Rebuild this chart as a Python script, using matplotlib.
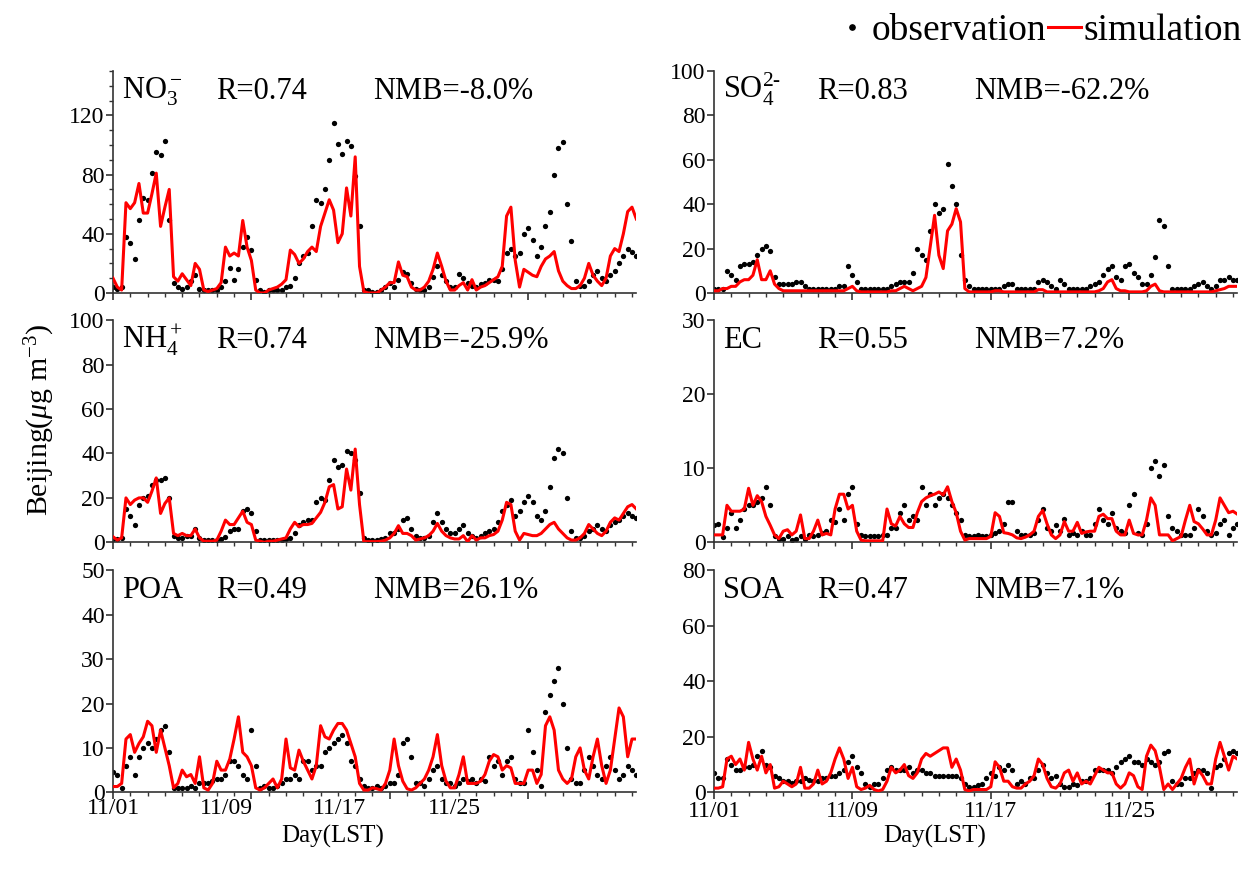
import numpy as np
import matplotlib
matplotlib.use("Agg")
import matplotlib.pyplot as plt
from matplotlib.lines import Line2D
from matplotlib.ticker import MultipleLocator

plt.rcParams['font.family'] = ['Liberation Serif', 'DejaVu Serif']
plt.rcParams['mathtext.fontset'] = 'custom'
plt.rcParams['mathtext.rm'] = 'Liberation Serif'
plt.rcParams['mathtext.it'] = 'Liberation Serif:italic'

# 6-hourly samples, in days since 11/01 00:00
days = np.arange(122) * 0.25
date_ticks = [0, 8, 16, 24]
date_labels = ['11/01', '11/09', '11/17', '11/25']
# the left column prints its date labels closer together than its ticks
left_label_pos = [0, 6.53, 13.12, 19.71]

# ---- left column ----
no3_obs = [4, 3, 4, 38, 34, 23, 49, 64,
           63, 81, 95, 93, 103, 49, 7, 4,
           3, 4, 8, 12, 3, 2, 2, 2,
           2, 4, 8, 17, 9, 16, 31, 38,
           29, 9, 2, 1, 2, 2, 2, 2,
           4, 5, 10, 20, 25, 27, 45, 63,
           61, 70, 90, 115, 101, 94, 103, 99,
           79, 45, 2, 2, 1, 1, 2, 4,
           7, 4, 9, 14, 13, 7, 3, 2,
           2, 4, 11, 18, 12, 8, 4, 4,
           13, 10, 7, 5, 4, 6, 7, 9,
           9, 8, 16, 27, 30, 25, 27, 40,
           44, 36, 25, 31, 45, 55, 80, 98,
           102, 60, 35, 8, 5, 5, 8, 12,
           15, 10, 8, 12, 15, 20, 25, 30,
           28, 25]
no3_sim = [10, 4, 2, 61, 57, 61, 74, 54,
           54, 67, 81, 45, 58, 70, 11, 8,
           13, 9, 5, 20, 16, 2, 1, 2,
           3, 7, 31, 25, 27, 25, 49, 31,
           22, 2, 0, 0, 2, 3, 4, 6,
           9, 29, 26, 20, 23, 28, 31, 28,
           45, 54, 63, 56, 34, 40, 71, 52,
           92, 18, 1, 0, 0, 0, 2, 4,
           7, 7, 21, 12, 11, 4, 2, 2,
           4, 8, 16, 27, 18, 8, 2, 2,
           5, 7, 2, 9, 2, 4, 5, 7,
           9, 11, 18, 52, 58, 22, 4, 16,
           14, 12, 11, 18, 23, 25, 28, 15,
           8, 5, 3, 3, 5, 10, 20, 12,
           8, 5, 10, 25, 30, 28, 40, 55,
           58, 50]

nh4_obs = [1.5, 1.5, 2, 15, 12, 8, 17, 20,
           21, 26, 28, 28, 29, 20, 3, 2,
           2, 3, 3, 6, 2, 1, 1, 1,
           1, 1.5, 2.5, 5, 6, 6, 14, 15,
           13, 5, 1, 1, 1, 1, 1, 1,
           1.5, 2, 4, 8, 9, 10, 10, 18,
           20, 19, 28, 37, 34, 35, 41, 40,
           37, 22, 2, 1, 1, 1, 1.5, 2,
           4, 4, 6, 10, 11, 6, 3, 2,
           2, 3, 9, 13, 9, 6, 4, 4,
           6, 8, 4, 3, 2, 3, 4, 5,
           6, 9, 14, 17, 19, 12, 14, 18,
           21, 18, 12, 10, 14, 25, 38, 42,
           40, 20, 5, 2, 2, 3, 5, 6,
           8, 6, 5, 8, 9, 10, 12, 13,
           12, 11]
nh4_sim = [2.5, 1, 2, 20, 17, 19, 20, 20,
           18, 23, 29, 13, 17.5, 20, 4, 3,
           4, 3, 3, 6, 2, 0.5, 0.5, 0.5,
           1, 5, 10, 8, 8, 11, 14, 9,
           8, 1, 0.5, 0, 0.5, 0.5, 1, 1.5,
           2, 6, 9, 7, 8, 8, 8.5, 11,
           13.5, 18, 25, 26, 15, 16, 33, 23.5,
           42, 17, 0.3, 0.3, 0.3, 0.3, 0.5, 1,
           2, 4, 7.5, 4, 4, 3, 1, 1.5,
           2, 3, 5, 8.5, 5, 3, 2, 1.5,
           1.5, 3, 0.3, 3, 1, 2, 2, 3,
           3.5, 5, 10, 18, 17, 5, 1, 4,
           3.5, 3, 3, 4, 6, 8, 9, 6,
           4, 2, 1, 1, 2, 4, 8, 6,
           4, 3, 5, 9, 11, 10, 13, 16,
           17, 15]

poa_obs = [4.5, 4, 1, 6, 8, 4, 8, 10,
           11, 10, 12, 14, 15, 9, 1, 1,
           1, 1, 1.5, 1, 2, 2, 2, 2.5,
           3, 3, 4, 7, 7, 6, 4, 3,
           14, 6, 1, 1.5, 1, 1, 1.5, 2,
           3, 3, 4, 3, 7, 7, 5, 6,
           6, 9, 10, 11, 12, 13, 11, 7,
           6, 3, 1.5, 1, 1, 1.5, 1, 1.5,
           2, 2, 4, 11, 12, 8, 2, 2,
           1.5, 3, 5, 6, 3, 2, 2, 1.5,
           2, 3, 2.5, 3, 2, 3, 2.5, 8,
           6, 7, 4, 7, 8, 3, 2, 2,
           14, 9, 5, 1.5, 18, 22, 25, 28,
           20, 10, 3, 2, 2, 5, 8, 6,
           4, 3, 6, 8, 5, 3, 4, 6,
           5, 4]
poa_sim = [1.3, 1.3, 2, 12, 13, 9, 11, 12.5,
           16, 15, 9, 14, 10, 6, 1, 2,
           5, 3.5, 4, 2, 8, 1, 0.5, 2,
           7, 5, 5, 7.5, 12, 17, 9, 8,
           6, 1, 0.5, 1, 2, 3, 1, 3,
           12, 5.5, 5, 9.5, 7, 5, 3, 6,
           15, 12.5, 12, 14, 15.5, 15.5, 14, 11,
           8, 2, 0.5, 0.5, 1, 0.8, 0.5, 2,
           5, 12, 6, 2.5, 0.8, 0.5, 1, 2,
           3, 5, 8, 13, 6, 2.5, 1, 1,
           4, 8, 2, 2, 2, 2.5, 4, 7,
           8.5, 8, 5, 6, 5.5, 2, 2, 2,
           5, 5, 2, 4, 15, 17, 14, 5,
           3, 2, 3, 8, 10, 5, 3, 8,
           12, 6, 2, 5, 12, 19, 17, 8,
           12, 12]

# ---- right column ----
so4_obs = [2, 2, 2, 10, 8, 6, 12, 13,
           13, 14, 17, 20, 21, 19, 7, 4,
           4, 4, 4, 5, 5, 3, 2, 2,
           2, 2, 2, 2, 2, 3, 3, 12,
           8, 5, 2, 2, 2, 2, 2, 2,
           2, 3, 4, 5, 5, 5, 9, 20,
           17, 15, 28, 40, 36, 38, 58, 48,
           40, 17, 6, 3, 2, 2, 2, 2,
           2, 2, 2, 3, 4, 4, 2, 2,
           2, 2, 2, 5, 6, 5, 3, 2,
           6, 4, 2, 2, 2, 2, 2, 3,
           4, 5, 8, 11, 12, 7, 6, 12,
           13, 9, 7, 4, 4, 8, 16, 33,
           30, 12, 2, 2, 2, 2, 2, 3,
           4, 5, 3, 2, 3, 6, 6, 7,
           6, 6]
so4_sim = [1, 1, 2, 2, 3, 3, 5, 6,
           6, 8, 15, 6, 6, 10, 4, 2,
           1, 1, 1, 1, 1, 1, 1, 1,
           1, 1, 1, 1, 1, 1, 1, 2,
           3, 1, 0.5, 0.5, 0.5, 0.5, 0.5, 0.5,
           0.5, 1, 1, 2, 3, 2, 1, 2,
           3, 7, 21, 35, 17, 11, 28, 31,
           38, 32, 2, 0.5, 0.5, 0.5, 0.5, 0.5,
           0.5, 1, 1, 0.5, 0.5, 0.5, 0.5, 0.5,
           0.5, 0.5, 0.5, 1.5, 1.5, 0.5, 0.5, 0.5,
           0.5, 0.5, 0.5, 0.5, 0.5, 0.5, 0.5, 0.5,
           0.5, 1, 2, 5, 6, 2, 1, 1,
           0.5, 0.5, 0.5, 0.5, 1, 3, 4, 1,
           0.5, 0.5, 0.5, 0.5, 0.5, 0.5, 0.5, 0.5,
           0.5, 0.5, 0.5, 0.5, 1, 1.5, 2, 3,
           3, 3]

ec_obs = [2.3, 2.5, 0.7, 2, 4, 2, 3, 4.5,
          5, 5, 5.5, 6, 7.5, 5, 0.8, 0.5,
          0.5, 0.8, 0.3, 0.4, 0.8, 0.5, 1, 0.8,
          1, 1.2, 1.5, 3, 2.8, 4.5, 3, 6.5,
          7.5, 2.5, 1, 0.8, 0.8, 0.8, 0.8, 1,
          1, 2, 2, 4, 5, 3, 3.5, 3,
          7.5, 5, 6.5, 5, 6, 6.5, 6, 5,
          4, 3, 1, 0.8, 0.8, 1, 0.8, 0.8,
          1, 1.3, 1.5, 2.5, 5.5, 5.5, 1.5, 1,
          1, 1, 1.2, 3, 4.5, 2, 1.5, 2.3,
          1.5, 3.2, 1, 1.2, 1, 1.5, 1, 1,
          2.5, 4.5, 3, 2.5, 4, 2, 1.5, 1.3,
          5, 6.5, 1.2, 1, 2.5, 10, 11, 9,
          10.5, 3.5, 2, 1.5, 1, 1, 1, 2,
          4.5, 3.5, 1.5, 1, 1.2, 2.5, 3, 1,
          2, 2.5]
ec_sim = [1, 1, 1, 5, 4.2, 4.2, 4.2, 4.5,
          7.3, 5, 6.3, 5.5, 3.5, 2.3, 1, 0.5,
          1.5, 1.7, 1, 1.5, 3.7, 0.5, 0.5, 1.5,
          3, 1, 1.2, 1, 4.5, 6.5, 6.5, 4.5,
          5, 1.5, 0.3, 0.2, 0.2, 0.2, 0.2, 0.2,
          4.5, 2.5, 2.2, 3.5, 2.5, 2, 2, 4,
          5.5, 6, 6.3, 6.5, 6.8, 6.4, 7.5, 5.5,
          4, 1.5, 0.3, 0.5, 0.5, 0.5, 0.5, 0.5,
          0.8, 4, 3.5, 1.3, 1.2, 1, 0.6, 0.5,
          0.7, 1, 1.5, 3.5, 4.3, 2.5, 1, 0.5,
          1, 2.8, 1.5, 1.5, 2.7, 1.2, 1.4, 1.5,
          1.5, 3.5, 3.8, 3.2, 3.2, 1.5, 1, 1,
          3, 1.2, 1, 1, 3, 6, 5, 1,
          1, 1, 0.2, 0.5, 0.8, 3, 5, 2.8,
          2.5, 1.8, 1, 1, 3, 6, 5, 4,
          4.2, 3.8]

soa_obs = [7, 5, 5, 12, 10, 8, 8, 9,
           9, 10, 13, 15, 10, 9, 6, 5,
           4, 4, 3.5, 4, 4, 5, 4.5, 4,
           4, 5, 5, 6, 6, 7, 8, 11,
           13, 9, 7, 3, 2, 3, 3, 5,
           8, 9, 8, 8, 8, 9, 7, 8,
           8, 7, 7, 6, 6, 6, 6, 6,
           6, 5, 3, 2, 2, 2.5, 3, 5,
           7, 6, 9, 8, 10, 8, 3, 4,
           3, 5, 5, 8, 10, 7, 5, 6,
           3, 2, 2, 3, 2.5, 4, 4, 5,
           8, 8, 8, 8, 7, 9, 11, 12,
           13, 11, 11, 10, 12, 11, 10, 11,
           14, 15, 4, 3, 3, 5, 5, 7,
           8, 8, 7, 1.5, 9, 10, 12, 14,
           15, 14]
soa_sim = [1.5, 1.5, 2, 12, 13, 10, 12, 8,
           18, 12, 8, 13, 7, 10, 1.5, 2,
           4, 3, 2, 3, 9, 1.5, 1.5, 3,
           8, 3, 4, 7, 12, 16, 12, 5,
           9, 2, 1, 1.5, 2.5, 1, 0.5, 1,
           4, 9, 7, 8, 10, 6, 5, 7,
           12, 14, 13, 14, 15, 16, 16, 9,
           12, 8, 1, 0.5, 1, 1, 1, 1,
           2, 11, 9, 4, 4, 2, 1.5, 1.5,
           3, 4, 6, 12, 10, 5, 2, 1.5,
           3, 7, 8, 4, 7, 3, 4, 3,
           6, 9, 8, 7, 7, 3, 1.5, 3,
           7, 6, 2, 1, 13, 17, 15, 9,
           1, 3, 1, 3, 5, 9, 12, 3,
           8, 6, 3, 3, 12, 18, 13, 8,
           13, 12]

# name, R, NMB, obs, sim, ymax, ytick step
panels = [
    [(r'NO$_3^-$', '0.74', '-8.0%', no3_obs, no3_sim, 150, 40),
     (r'SO$_4^{2\text{-}}$', '0.83', '-62.2%', so4_obs, so4_sim, 100, 20)],
    [(r'NH$_4^+$', '0.74', '-25.9%', nh4_obs, nh4_sim, 100, 20),
     ('EC', '0.55', '7.2%', ec_obs, ec_sim, 30, 10)],
    [('POA', '0.49', '26.1%', poa_obs, poa_sim, 50, 10),
     ('SOA', '0.47', '7.1%', soa_obs, soa_sim, 80, 20)],
]

fig = plt.figure(figsize=(12.45, 8.76), dpi=100)
W, H = 1245.0, 876.0
col_left = [113, 714]
col_width = 523
row_bottom = [293, 542.3, 792.3]
row_height = 222
xlabel_x = [333, 935]

for r in range(3):
    for c in range(2):
        name, rval, nmb, obs, sim, ymax, ystep = panels[r][c]
        ax = fig.add_axes([col_left[c] / W, 1 - row_bottom[r] / H,
                           col_width / W, row_height / H])
        ax.plot(days, obs, 'o', color='black', ms=3.8, mec='none', zorder=2)
        ax.plot(days, sim, '-', color='red', lw=2.2, zorder=3)

        ax.set_xlim(0, col_width / 17.3)
        ax.set_ylim(0, ymax)
        ax.set_xticks(date_ticks)
        ax.xaxis.set_minor_locator(MultipleLocator(1))
        ax.yaxis.set_major_locator(MultipleLocator(ystep))
        if name.startswith('NO'):
            ax.yaxis.set_minor_locator(MultipleLocator(10))
        ax.set_xticklabels([])

        if r == 2:
            if c == 0:
                for xp, lab in zip(left_label_pos, date_labels):
                    ax.text(xp, -0.027, lab, transform=ax.get_xaxis_transform(),
                            fontsize=17, ha='center', va='top')
            else:
                ax.set_xticklabels(date_labels)
            fig.text(xlabel_x[c] / W, 1 - 836 / H, 'Day(LST)', fontsize=18,
                     ha='center', va='center')

        for side in ['top', 'right']:
            ax.spines[side].set_visible(False)
        for side in ['left', 'bottom']:
            ax.spines[side].set_linewidth(1.2)
            ax.spines[side].set_color('#333333')
        ax.tick_params(which='major', direction='out', length=5, width=1.2,
                       labelsize=17, color='#333333', pad=1)
        ax.tick_params(which='minor', direction='out', length=3, width=1.0,
                       color='#333333')

        ax.text(0.018, 0.875, name, transform=ax.transAxes, fontsize=22,
                va='baseline', ha='left')
        ax.text(0.197, 0.875, 'R=' + rval, transform=ax.transAxes,
                fontsize=22, va='baseline', ha='left')
        ax.text(0.498, 0.875, 'NMB=' + nmb, transform=ax.transAxes,
                fontsize=22, va='baseline', ha='left')

fig.text(0.032, 1 - 420 / H, r'Beijing($\mu$g m$^{-3}$)', rotation=90,
         fontsize=21.5, va='center', ha='center')

handles = [Line2D([], [], marker='o', ls='none', color='black', ms=3.8),
           Line2D([], [], color='red', lw=2.2)]
fig.legend(handles, ['observation', 'simulation'], ncol=2, frameon=False,
           loc='center right', bbox_to_anchor=(1242 / W, 1 - 31 / H),
           fontsize=27, handlelength=0.88, handletextpad=0.08,
           columnspacing=0.05, borderaxespad=0, borderpad=0)

fig.savefig('out.png', dpi=100)
